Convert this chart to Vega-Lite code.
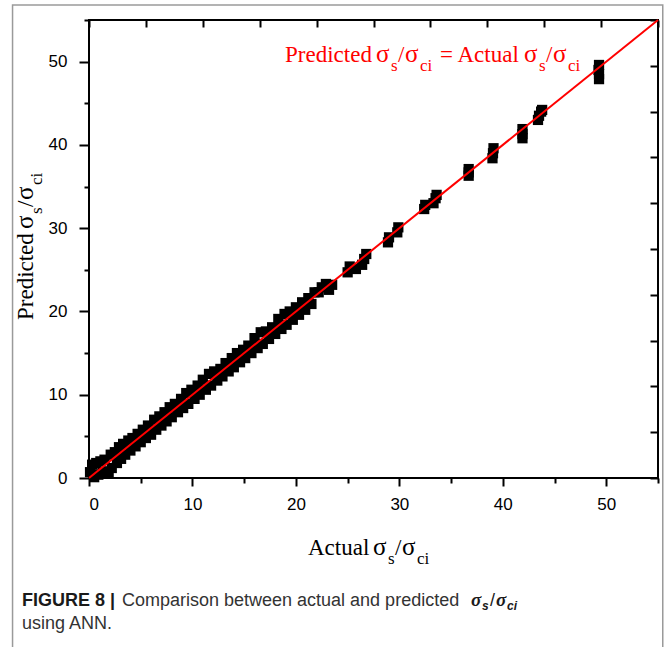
{
  "$schema": "https://vega.github.io/schema/vega-lite/v6.json",
  "width": 569,
  "height": 458,
  "autosize": {"type": "none"},
  "padding": {"left": 89, "top": 20, "right": 7, "bottom": 169},
  "background": "white",
  "config": {
    "view": {"stroke": "black", "strokeWidth": 2},
    "text": {"font": "Liberation Serif", "fontSize": 23, "align": "left", "baseline": "alphabetic", "color": "black"},
    "axis": {"domain": false, "grid": false, "tickColor": "black", "tickWidth": 2, "labelFont": "Liberation Sans", "labelFontSize": 17, "labelColor": "black"}
  },
  "resolve": {"axis": {"x": "independent", "y": "independent"}},
  "layer": [
    {
      "data": {"values": [
        {"a": 0.1, "p": 0.7}, {"a": 0.3, "p": 1.6}, {"a": 0.5, "p": 0.1}, {"a": 0.7, "p": 1.8}, {"a": 0.9, "p": 0.4},
        {"a": 1.1, "p": 2.0}, {"a": 1.3, "p": 0.6}, {"a": 1.5, "p": 2.2}, {"a": 1.7, "p": 0.8}, {"a": 1.9, "p": 0.6},
        {"a": 2.1, "p": 2.8}, {"a": 2.2, "p": 1.2}, {"a": 2.5, "p": 3.1}, {"a": 2.7, "p": 1.8}, {"a": 2.9, "p": 3.7},
        {"a": 3.1, "p": 2.3}, {"a": 3.3, "p": 4.1}, {"a": 3.5, "p": 2.8}, {"a": 3.8, "p": 4.5}, {"a": 4.0, "p": 3.3},
        {"a": 4.2, "p": 4.8}, {"a": 4.5, "p": 3.8}, {"a": 4.7, "p": 5.3}, {"a": 5.0, "p": 4.3}, {"a": 5.2, "p": 5.8},
        {"a": 5.5, "p": 4.8}, {"a": 5.7, "p": 6.3}, {"a": 6.0, "p": 5.2}, {"a": 6.3, "p": 7.0}, {"a": 6.5, "p": 5.8},
        {"a": 6.8, "p": 7.4}, {"a": 7.0, "p": 6.3}, {"a": 7.3, "p": 7.9}, {"a": 7.5, "p": 6.8}, {"a": 7.8, "p": 8.5},
        {"a": 8.0, "p": 7.3}, {"a": 8.3, "p": 8.9}, {"a": 8.6, "p": 7.9}, {"a": 8.9, "p": 9.5}, {"a": 9.1, "p": 8.4},
        {"a": 9.4, "p": 10.2}, {"a": 9.6, "p": 8.9}, {"a": 9.9, "p": 10.6}, {"a": 10.2, "p": 9.5}, {"a": 10.5, "p": 11.1},
        {"a": 10.7, "p": 10.0}, {"a": 11.0, "p": 11.8}, {"a": 11.3, "p": 10.6}, {"a": 11.6, "p": 12.5}, {"a": 11.8, "p": 11.1},
        {"a": 12.1, "p": 12.8}, {"a": 12.4, "p": 11.7}, {"a": 12.7, "p": 13.1}, {"a": 12.9, "p": 12.2}, {"a": 13.2, "p": 13.8},
        {"a": 13.5, "p": 12.8}, {"a": 13.8, "p": 14.4}, {"a": 14.0, "p": 13.3}, {"a": 14.3, "p": 15.0}, {"a": 14.6, "p": 13.9},
        {"a": 14.9, "p": 15.4}, {"a": 15.1, "p": 14.4}, {"a": 15.4, "p": 15.9}, {"a": 15.7, "p": 15.0}, {"a": 16.0, "p": 16.8},
        {"a": 16.3, "p": 15.6}, {"a": 16.6, "p": 17.5}, {"a": 16.8, "p": 16.1}, {"a": 17.1, "p": 17.6}, {"a": 17.4, "p": 16.7},
        {"a": 17.7, "p": 18.1}, {"a": 18.0, "p": 17.3}, {"a": 18.3, "p": 19.1}, {"a": 18.6, "p": 17.9}, {"a": 18.9, "p": 19.7},
        {"a": 19.1, "p": 18.4}, {"a": 19.4, "p": 20.0}, {"a": 19.7, "p": 19.0}, {"a": 20.0, "p": 20.5}, {"a": 20.3, "p": 19.6},
        {"a": 20.6, "p": 21.1}, {"a": 20.9, "p": 20.2}, {"a": 21.2, "p": 21.6}, {"a": 21.5, "p": 20.9}, {"a": 21.8, "p": 22.3},
        {"a": 22.2, "p": 22.3}, {"a": 22.5, "p": 22.9}, {"a": 22.9, "p": 23.3}, {"a": 23.2, "p": 22.6}, {"a": 23.5, "p": 23.2},
        {"a": 25.0, "p": 24.7}, {"a": 25.2, "p": 25.4}, {"a": 25.8, "p": 25.1}, {"a": 26.4, "p": 25.6}, {"a": 26.6, "p": 26.3},
        {"a": 26.8, "p": 26.9}, {"a": 28.9, "p": 28.3}, {"a": 29.0, "p": 28.9}, {"a": 29.8, "p": 29.5}, {"a": 29.9, "p": 30.1},
        {"a": 32.4, "p": 32.3}, {"a": 32.5, "p": 32.8}, {"a": 33.3, "p": 33.0}, {"a": 33.5, "p": 33.6}, {"a": 33.6, "p": 34.0},
        {"a": 36.7, "p": 36.3}, {"a": 36.7, "p": 36.7}, {"a": 36.7, "p": 37.1},
        {"a": 39.0, "p": 38.4}, {"a": 39.05, "p": 39.0}, {"a": 39.1, "p": 39.6},
        {"a": 41.9, "p": 40.8}, {"a": 41.9, "p": 41.3}, {"a": 41.9, "p": 41.9},
        {"a": 43.4, "p": 43.0}, {"a": 43.5, "p": 43.5}, {"a": 43.7, "p": 44.0}, {"a": 43.8, "p": 44.2},
        {"a": 49.3, "p": 47.9}, {"a": 49.3, "p": 48.5}, {"a": 49.25, "p": 49.0}, {"a": 49.3, "p": 49.6}
      ]},
      "mark": {"type": "point", "shape": "square", "filled": true, "size": 105, "color": "black", "opacity": 1},
      "encoding": {
        "x": {"field": "a", "type": "quantitative", "scale": {"domain": [0, 55], "nice": false, "zero": false},
          "axis": {"orient": "bottom", "title": null, "values": [0, 5, 10, 15, 20, 25, 30, 35, 40, 45, 50, 55],
            "labelExpr": "datum.value % 10 === 0 && datum.value < 55 ? datum.label : ''",
            "tickSize": {"condition": {"test": "datum.value % 10 === 0", "value": 8}, "value": 5},
            "labelPadding": 10}},
        "y": {"field": "p", "type": "quantitative", "scale": {"domain": [0, 55], "nice": false, "zero": false},
          "axis": {"orient": "left", "title": null, "values": [0, 5, 10, 15, 20, 25, 30, 35, 40, 45, 50, 55],
            "labelExpr": "datum.value % 10 === 0 && datum.value < 55 ? datum.label : ''",
            "tickSize": {"condition": {"test": "datum.value % 10 === 0", "value": 10}, "value": 5},
            "labelPadding": 12}}
      }
    },
    {
      "data": {"values": [{}]},
      "mark": {"type": "rule", "color": "#ff0000", "strokeWidth": 2},
      "encoding": {
        "x": {"datum": 0, "type": "quantitative",
          "axis": {"orient": "top", "title": null, "labels": false, "offset": -7, "tickSize": 7,
            "values": [0, 5.5, 11, 16.5, 22, 27.5, 33, 38.5, 44, 49.5, 55]}},
        "y": {"datum": 0, "type": "quantitative",
          "axis": {"orient": "right", "title": null, "labels": false, "offset": -8, "tickSize": 8,
            "values": [0, 5.5, 11, 16.5, 22, 27.5, 33, 38.5, 44, 49.5, 55]}},
        "x2": {"datum": 55},
        "y2": {"datum": 55}
      }
    },
    {
      "data": {"values": [{}]},
      "mark": {"type": "rect", "filled": false, "stroke": "#9a9a9a", "strokeWidth": 1.5},
      "encoding": {
        "x": {"datum": -7.39, "type": "quantitative", "axis": null},
        "x2": {"datum": 55.46},
        "y": {"datum": 56.8, "type": "quantitative", "axis": null},
        "y2": {"datum": -25}
      }
    },
    {
      "data": {"values": [{}]},
      "encoding": {
        "x": {"datum": 18.95, "type": "quantitative", "axis": null},
        "y": {"datum": 49.96, "type": "quantitative", "axis": null}
      },
      "layer": [
        {"mark": {"type": "text", "text": "Predicted", "color": "#ff0000"}},
        {"mark": {"type": "text", "text": "σ", "color": "#ff0000", "dx": 91, "fontSize": 25}},
        {"mark": {"type": "text", "text": "s", "color": "#ff0000", "dx": 106, "dy": 9, "fontSize": 17}},
        {"mark": {"type": "text", "text": "/", "color": "#ff0000", "dx": 113}},
        {"mark": {"type": "text", "text": "σ", "color": "#ff0000", "dx": 120, "fontSize": 25}},
        {"mark": {"type": "text", "text": "ci", "color": "#ff0000", "dx": 135, "dy": 9, "fontSize": 17}},
        {"mark": {"type": "text", "text": "= Actual", "color": "#ff0000", "dx": 155}},
        {"mark": {"type": "text", "text": "σ", "color": "#ff0000", "dx": 239, "fontSize": 25}},
        {"mark": {"type": "text", "text": "s", "color": "#ff0000", "dx": 254, "dy": 9, "fontSize": 17}},
        {"mark": {"type": "text", "text": "/", "color": "#ff0000", "dx": 261}},
        {"mark": {"type": "text", "text": "σ", "color": "#ff0000", "dx": 268, "fontSize": 25}},
        {"mark": {"type": "text", "text": "ci", "color": "#ff0000", "dx": 283, "dy": 9, "fontSize": 17}}
      ]
    },
    {
      "data": {"values": [{}]},
      "encoding": {
        "x": {"datum": 21.17, "type": "quantitative", "axis": null},
        "y": {"datum": -9.25, "type": "quantitative", "axis": null}
      },
      "layer": [
        {"mark": {"type": "text", "text": "Actual"}},
        {"mark": {"type": "text", "text": "σ", "dx": 65, "fontSize": 25}},
        {"mark": {"type": "text", "text": "s", "dx": 80, "dy": 9, "fontSize": 17}},
        {"mark": {"type": "text", "text": "/", "dx": 87}},
        {"mark": {"type": "text", "text": "σ", "dx": 94, "fontSize": 25}},
        {"mark": {"type": "text", "text": "ci", "dx": 109, "dy": 9, "fontSize": 17}}
      ]
    },
    {
      "data": {"values": [{}]},
      "encoding": {
        "x": {"datum": -5.41, "type": "quantitative", "axis": null},
        "y": {"datum": 18.97, "type": "quantitative", "axis": null}
      },
      "layer": [
        {"mark": {"type": "text", "text": "Predicted", "angle": 270}},
        {"mark": {"type": "text", "text": "σ", "angle": 270, "dx": 91, "fontSize": 25}},
        {"mark": {"type": "text", "text": "s", "angle": 270, "dx": 106, "dy": 9, "fontSize": 17}},
        {"mark": {"type": "text", "text": "/", "angle": 270, "dx": 113}},
        {"mark": {"type": "text", "text": "σ", "angle": 270, "dx": 120, "fontSize": 25}},
        {"mark": {"type": "text", "text": "ci", "angle": 270, "dx": 135, "dy": 9, "fontSize": 17}}
      ]
    },
    {
      "data": {"values": [{}]},
      "encoding": {
        "x": {"datum": -6.48, "type": "quantitative", "axis": null},
        "y": {"datum": -15.37, "type": "quantitative", "axis": null}
      },
      "layer": [
        {"mark": {"type": "text", "text": "FIGURE 8 |", "font": "Liberation Sans", "fontSize": 18, "fontWeight": "bold", "color": "#1a1a1a"}},
        {"mark": {"type": "text", "text": "Comparison between actual and predicted", "font": "Liberation Sans", "fontSize": 18, "color": "#333333", "dx": 100}},
        {"mark": {"type": "text", "text": "σ", "font": "Liberation Serif", "fontSize": 19, "fontWeight": "bold", "fontStyle": "italic", "color": "#1a1a1a", "dx": 449}},
        {"mark": {"type": "text", "text": "s", "font": "Liberation Sans", "fontSize": 12, "fontWeight": "bold", "fontStyle": "italic", "color": "#1a1a1a", "dx": 460, "dy": 4}},
        {"mark": {"type": "text", "text": "/", "font": "Liberation Sans", "fontSize": 18, "color": "#1a1a1a", "dx": 468}},
        {"mark": {"type": "text", "text": "σ", "font": "Liberation Serif", "fontSize": 19, "fontWeight": "bold", "fontStyle": "italic", "color": "#1a1a1a", "dx": 474}},
        {"mark": {"type": "text", "text": "ci", "font": "Liberation Sans", "fontSize": 12, "fontWeight": "bold", "fontStyle": "italic", "color": "#1a1a1a", "dx": 485, "dy": 4}},
        {"mark": {"type": "text", "text": "using ANN.", "font": "Liberation Sans", "fontSize": 18, "color": "#333333", "dy": 23}}
      ]
    }
  ]
}
